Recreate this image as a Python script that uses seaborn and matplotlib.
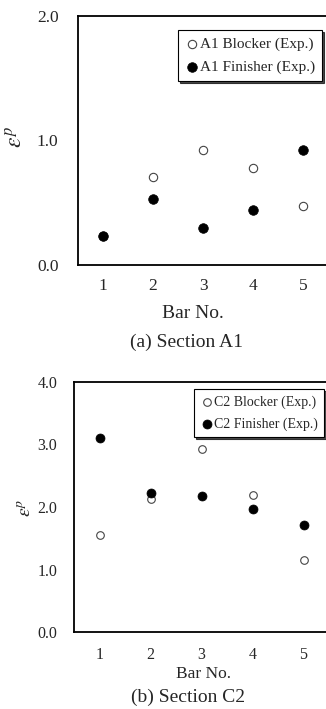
import matplotlib
matplotlib.use("Agg")
import matplotlib.pyplot as plt
import seaborn as sns
import pandas as pd
import numpy as np

bars = [1, 2, 3, 4, 5]
a1_blocker = [0.23, 0.71, 0.92, 0.78, 0.47]
a1_finisher = [0.23, 0.53, 0.30, 0.44, 0.92]
c2_blocker = [1.56, 2.13, 2.93, 2.19, 1.16]
c2_finisher = [3.11, 2.22, 2.17, 1.97, 1.71]

sns.set_style("white")
plt.rcParams["font.family"] = ["Liberation Serif", "DejaVu Serif"]
plt.rcParams["mathtext.fontset"] = "stix"

fig = plt.figure(figsize=(3.26, 7.09), dpi=100)
W, H = 326, 709

def axes_px(l, t, r, b):
    return fig.add_axes([l / W, 1 - b / H, (r - l) / W, (b - t) / H])

ax1 = axes_px(78, 16, 328, 265)
ax2 = axes_px(74, 382, 329, 632)

def draw(ax, blocker, finisher, names, ymax, yticks, fs_tick, fs_leg, ms, legbox,
         xpad, ypad, lspace):
    df_b = pd.DataFrame({"Bar": bars, "val": blocker})
    df_f = pd.DataFrame({"Bar": bars, "val": finisher})
    sns.scatterplot(data=df_b, x="Bar", y="val", ax=ax, marker="o", s=ms,
                    facecolor="white", edgecolor="#444444", linewidth=0.8,
                    label=names[0], zorder=3)
    sns.scatterplot(data=df_f, x="Bar", y="val", ax=ax, marker="o", s=ms + 12,
                    color="black", edgecolor="black", linewidth=0.5,
                    label=names[1], zorder=4)
    ax.set_xlim(0.5, 5.5)
    ax.set_ylim(0, ymax)
    ax.set_xticks(bars)
    ax.set_xticks([1.5, 2.5, 3.5, 4.5], minor=True)
    ax.set_yticks(yticks)
    ax.set_yticklabels([f"{v:.1f}" for v in yticks])
    ax.tick_params(axis="x", which="major", length=0, pad=xpad, labelsize=fs_tick)
    ax.tick_params(axis="x", which="minor", length=4, width=1.2, direction="in")
    ax.tick_params(axis="y", which="major", length=4, width=1.2, direction="in",
                   pad=ypad, labelsize=fs_tick)
    ax.set_xlabel("")
    ax.set_ylabel("")
    for side in ["left", "bottom", "top", "right"]:
        ax.spines[side].set_visible(True)
        ax.spines[side].set_color("black")
        ax.spines[side].set_linewidth(1.3)
    leg = ax.legend(loc="upper right", bbox_to_anchor=legbox,
                    bbox_transform=fig.transFigure, fontsize=fs_leg,
                    frameon=True, fancybox=False, handletextpad=0.0,
                    handlelength=1.0, borderpad=0.45, labelspacing=lspace,
                    borderaxespad=0,
                    shadow={"color": "black", "alpha": 0.7, "ox": 1.5, "oy": -1.5})
    leg.get_frame().set_edgecolor("black")
    leg.get_frame().set_linewidth(0.8)
    leg.get_frame().set_alpha(1)

draw(ax1, a1_blocker, a1_finisher, ["A1 Blocker (Exp.)", "A1 Finisher (Exp.)"],
     2.0, [0.0, 1.0, 2.0], 12.5, 11, 36, (322 / W, 1 - 30 / H), 9, 14, 0.62)
draw(ax2, c2_blocker, c2_finisher, ["C2 Blocker (Exp.)", "C2 Finisher (Exp.)"],
     4.0, [0.0, 1.0, 2.0, 3.0, 4.0], 11.5, 10, 30, (324 / W, 1 - 389 / H), 11, 12, 0.6)

fig.text(17 / W, 1 - 137 / H, r"$\varepsilon^p$", rotation=90, fontsize=17,
         ha="center", va="center")
fig.text(26 / W, 1 - 508 / H, r"$\varepsilon^p$", rotation=90, fontsize=14,
         ha="center", va="center")

fig.text(193 / W, 1 - 313 / H, "Bar No.", fontsize=14, ha="center", va="center")
fig.text(186 / W, 1 - 342 / H, "(a) Section A1", fontsize=14, ha="center", va="center")
fig.text(203 / W, 1 - 674 / H, "Bar No.", fontsize=12.5, ha="center", va="center")
fig.text(188 / W, 1 - 697 / H, "(b) Section C2", fontsize=14, ha="center", va="center")

fig.savefig("out.png", dpi=100)
